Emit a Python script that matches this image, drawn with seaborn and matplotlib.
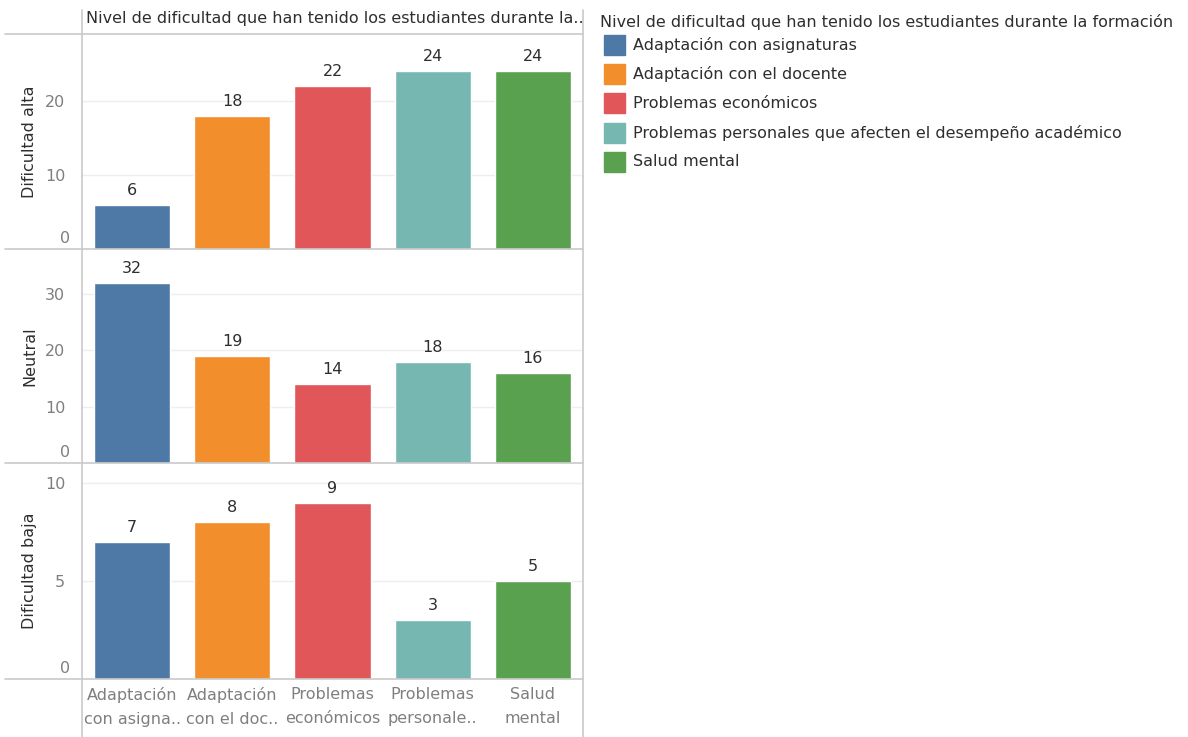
import matplotlib
matplotlib.use("Agg")
import matplotlib.pyplot as plt
from matplotlib.lines import Line2D
from matplotlib.patches import Rectangle
import matplotlib.transforms as mtransforms
import seaborn as sns
import pandas as pd

sns.set_theme(style="white")
plt.rcParams["font.family"] = ["DejaVu Sans"]

# Data
categorias = [
    "Adaptación con asignaturas",
    "Adaptación con el docente",
    "Problemas económicos",
    "Problemas personales que afecten el desempeño académico",
    "Salud mental",
]
etiquetas_x = [
    "Adaptación\ncon asigna..",
    "Adaptación\ncon el doc..",
    "Problemas\neconómicos",
    "Problemas\npersonale..",
    "Salud\nmental",
]
niveles = ["Dificultad alta", "Neutral", "Dificultad baja"]
dificultad_alta = [6, 18, 22, 24, 24]
neutral = [32, 19, 14, 18, 16]
dificultad_baja = [7, 8, 9, 3, 5]
colores = ["#4e79a7", "#f28e2b", "#e15759", "#76b7b2", "#59a14f"]

valores = [dificultad_alta, neutral, dificultad_baja]
y_limites = [(0, 29), (0, 38), (0, 11.02)]
y_ticks = [[0, 10, 20], [0, 10, 20, 30], [0, 5, 10]]

titulo = "Nivel de dificultad que han tenido los estudiantes durante la formación"
titulo_corto = "Nivel de dificultad que han tenido los estudiantes durante la.."

W, H = 1188, 737
fig = plt.figure(figsize=(W / 100, H / 100), dpi=100)
paleta = dict(zip(categorias, colores))

def fx(px):
    return px / W

def fy(py):
    return 1 - py / H

left_px, right_px = 82, 583
filas_px = [(34, 249), (249, 463), (463, 679)]

text_dark = "#2e2e2e"
tick_gray = "#7f7f7f"
line_gray = "#c9c9c9"
fs = 11.5

for i, (nivel, vals) in enumerate(zip(niveles, valores)):
    top, bot = filas_px[i]
    ax = fig.add_axes([fx(left_px), fy(bot), fx(right_px - left_px), (bot - top) / H])
    df = pd.DataFrame({"categoria": categorias, "valor": vals})
    sns.barplot(data=df, x="categoria", y="valor", hue="categoria",
                palette=paleta, order=categorias, hue_order=categorias,
                width=0.76, saturation=1, legend=False, ax=ax, zorder=3)
    ax.set_ylim(*y_limites[i])
    ax.set_xlim(-0.5, 4.5)
    ticks = y_ticks[i]
    ax.set_yticks(ticks)
    # the zero label sits just above the pane floor
    ax.set_yticklabels([""] + [str(t) for t in ticks[1:]])
    off = mtransforms.offset_copy(ax.get_yaxis_transform(), fig=fig, x=-12, y=3, units="dots")
    ax.text(0, 0, "0", transform=off, ha="right", va="bottom", fontsize=fs, color=tick_gray)
    ax.yaxis.grid(True, color="#eeeeee", linewidth=1, zorder=0)
    ax.set_axisbelow(True)
    for s in ax.spines.values():
        s.set_visible(False)
    ax.tick_params(axis="y", labelsize=fs, labelcolor=tick_gray, length=4,
                   color="#eeeeee", pad=8)
    ax.set_ylabel(nivel, fontsize=fs, color=text_dark)
    ax.yaxis.set_label_coords(-0.09, 0.5)
    ax.set_xlabel("")
    for cont in ax.containers:
        ax.bar_label(cont, fontsize=fs, color=text_dark, padding=5)
    if i < 2:
        ax.set_xticks([])
    else:
        ax.set_xticks(range(5))
        ax.set_xticklabels(etiquetas_x, fontsize=fs, color=tick_gray, linespacing=1.75)
        ax.tick_params(axis="x", length=0, pad=6)

# Frame lines of the table layout
for y in [34, 249, 463, 679]:
    fig.add_artist(Line2D([fx(5), fx(right_px)], [fy(y), fy(y)], color=line_gray, lw=1.2))
fig.add_artist(Line2D([fx(left_px), fx(left_px)], [fy(10), fy(737)], color=line_gray, lw=1.2))
fig.add_artist(Line2D([fx(right_px), fx(right_px)], [fy(10), fy(737)], color=line_gray, lw=1.2))

# Column header
fig.text(fx(86), fy(19), titulo_corto, fontsize=fs, color=text_dark, va="center", ha="left")

# Legend
fig.text(fx(600), fy(22), titulo, fontsize=fs, color=text_dark, va="center", ha="left")
for k, (cat, col) in enumerate(zip(categorias, colores)):
    yc = 45 + k * 29.2
    fig.add_artist(Rectangle((fx(604), fy(yc + 10)), fx(21), 20 / H, color=col,
                             transform=fig.transFigure))
    fig.text(fx(633), fy(yc), cat, fontsize=fs, color=text_dark, va="center", ha="left")

fig.savefig("out.png", dpi=100)
